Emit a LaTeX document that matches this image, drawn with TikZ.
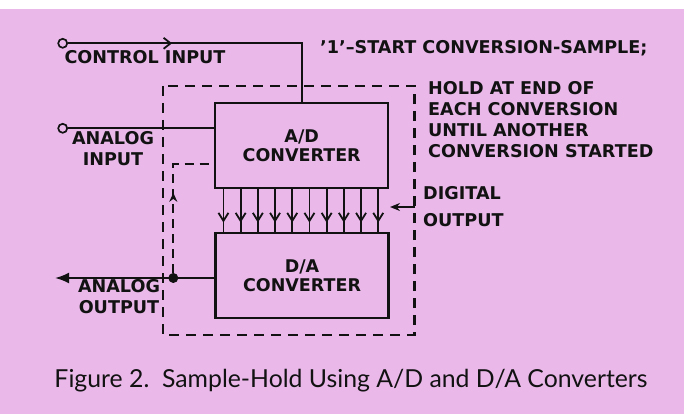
\documentclass[tikz,border=0pt]{standalone}
\usepackage{fontspec}
\usetikzlibrary{arrows.meta, positioning, decorations.markings, calc}
\newfontfamily\etiqfont{DejaVu Sans}
\newfontfamily\leyendafont{Lato}
\definecolor{fondo}{HTML}{EAB9EA}
\definecolor{tinta}{HTML}{121212}
\tikzset{
  every picture/.style={>=Stealth},
  hilo/.style={draw=tinta, line width=2.1pt},
  marco/.style={draw=tinta, line width=2.1pt, dash pattern=on 10pt off 7pt},
  retro/.style={draw=tinta, line width=2pt, dash pattern=on 9pt off 6pt},
  bloque/.style={draw=tinta, line width=2.1pt, minimum width=173pt, minimum height=85pt,
              text=tinta, font=\etiqfont\bfseries\fontsize{17.5}{19.5}\selectfont, align=center},
  borne/.style={circle, draw=tinta, line width=1.7pt, fill=fondo, inner sep=0pt, minimum size=9pt},
  punto/.style={circle, fill=tinta, inner sep=0pt, minimum size=10pt},
  etiq/.style={text=tinta, inner sep=0pt, font=\etiqfont\bfseries\fontsize{17.6}{21}\selectfont},
  leyenda/.style={text=tinta, inner sep=0pt, font=\leyendafont\fontsize{24.8}{28}\selectfont},
  marcaen/.style args={#1 with #2}{postaction={decorate}, decoration={markings,
              mark=at position #1 with {\arrow{#2}}}},
}

\begin{document}
\begin{tikzpicture}[x=1pt, y=-1pt]
  \fill[white] (0,0) rectangle (684,414);
  \fill[fondo] (0,9) rectangle (684,414);
  \useasboundingbox (0,0) rectangle (684,414);
  % bloques
  \node[bloque] (ad) at (301.7,145.7) {A/D\\CONVERTER};
  \node[bloque] (da) at (302,275.5) {D/A\\CONVERTER};
  \coordinate (m1) at (163.3,86); \coordinate (m2) at (414.5,335);
  \draw[marco] (m1) rectangle (m2);
  % bornes
  \node[borne] (cin) at (62.7,43.3) {};
  \node[borne] (ain) at (62.7,128.3) {};
  \node[punto] (nodo) at (173.3,278) {};
  \coordinate (aout) at (55,278);
  \coordinate (fb) at (215,164);
  \coordinate (dig) at (415,207); \coordinate (digtip) at (390,207);
  % conexiones
  \draw[hilo, marcaen={104pt with {Straight Barb[length=7pt,width=11pt,line width=1.8pt]}}] (cin) -| (ad.north);
  \draw[hilo] (ain) -- (ain -| ad.west);
  \draw[retro, marcaen={80pt with {Stealth[length=9pt,width=8pt]}}] (nodo) |- (fb);
  \draw[hilo, -{Latex[length=14pt,width=11pt]}] (nodo -| da.west) -- (aout);
  \draw[hilo, -{Stealth[length=10pt,width=8pt]}] (dig) -- (digtip);
  \foreach \i in {0,...,9} {
    \path (ad.south west) ++(9.3+\i*17.2,0) coordinate (b\i);
    \draw[hilo, line width=1.8pt, marcaen={0.78 with {Straight Barb[length=8pt,width=10pt,line width=1.8pt]}}] (b\i) -- (b\i |- da.north);
  }
  % textos
  \node[etiq] (lcin) at (145,57) {CONTROL INPUT};
  \node[etiq, align=center] (lain) at (113,149) {ANALOG\\INPUT};
  \node[etiq, align=center] (laout) at (119,297) {ANALOG\\OUTPUT};
  \node[etiq, anchor=west] (lstart) at (320,48) {’1’–START CONVERSION-SAMPLE;};
  \node[etiq, anchor=north west, align=left] (lhold) at (428,81) {HOLD AT END OF\\EACH CONVERSION\\UNTIL ANOTHER\\CONVERSION STARTED};
  \node[etiq, anchor=west] (ldig) at (423,193) {DIGITAL};
  \node[etiq, anchor=west] (lout) at (423,220) {OUTPUT};
  \node[leyenda] (cap) at (351,381) {Figure 2.\ \ Sample-Hold Using A/D and D/A Converters};
\end{tikzpicture}
\end{document}
